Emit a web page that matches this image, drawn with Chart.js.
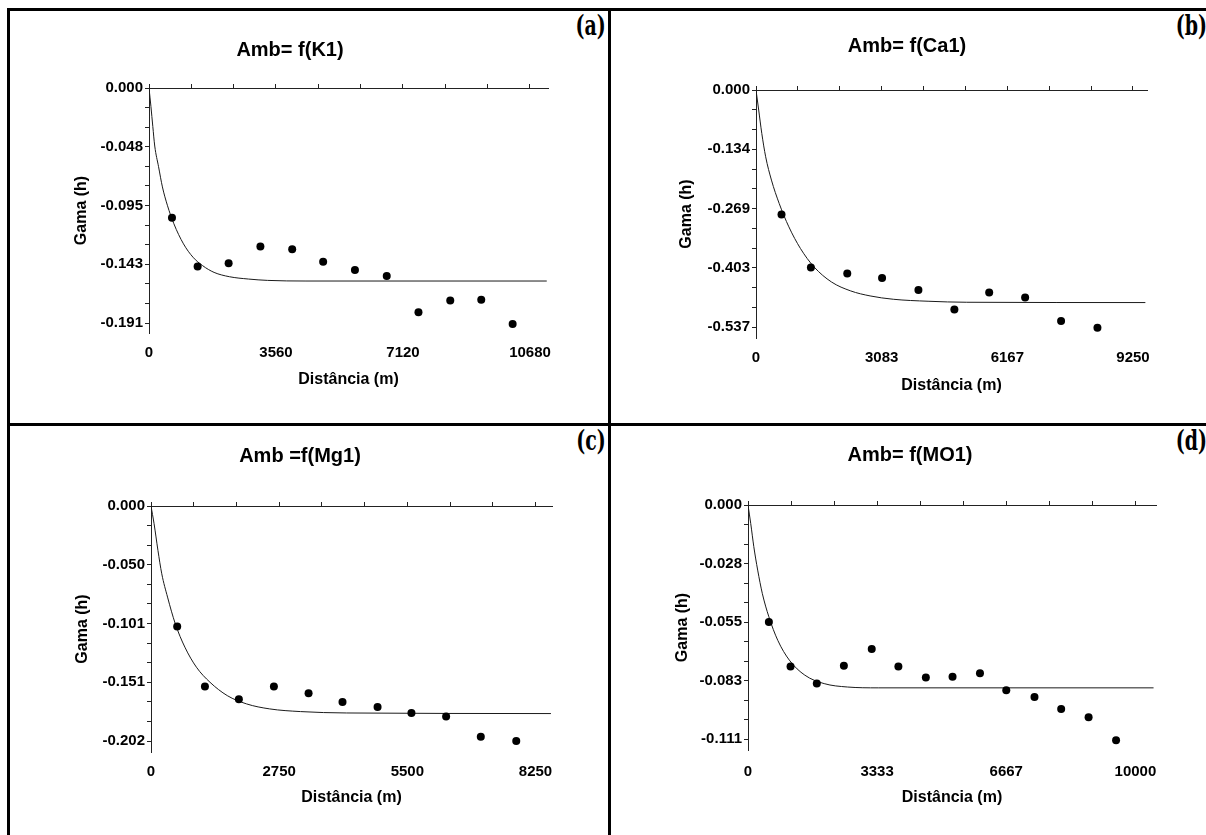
<!DOCTYPE html>
<html>
<head>
<meta charset="utf-8">
<script src="https://cdn.jsdelivr.net/npm/chart.js@4.4.1/dist/chart.umd.min.js"></script>
<style>
  html, body { margin: 0; padding: 0; background: #fff; overflow: hidden; }
  #page { position: relative; width: 1206px; height: 835px; overflow: hidden; background: #fff; }
  .rule { position: absolute; background: #000; }
  #page canvas { position: absolute; }
  .tag {
    position: absolute; font-family: "DejaVu Serif Condensed", "Liberation Serif", serif;
    font-weight: bold; font-size: 27px; line-height: 27px; color: #000;
    transform: scaleX(0.78); transform-origin: right top; white-space: nowrap;
  }
</style>
</head>
<body>
<div id="page">
  <!-- moldura da tabela -->
  <div class="rule" style="left:7px;top:8px;width:1210px;height:3px"></div>
  <div class="rule" style="left:7px;top:8px;width:3px;height:840px"></div>
  <div class="rule" style="left:608px;top:8px;width:3px;height:840px"></div>
  <div class="rule" style="left:7px;top:423px;width:1210px;height:3px"></div>

  <div class="tag" style="right:600px;top:12px">(a)</div>
  <div class="tag" style="right:-1px;top:12px">(b)</div>
  <div class="tag" style="right:600px;top:427px">(c)</div>
  <div class="tag" style="right:-1px;top:427px">(d)</div>
</div>

<script>
// ---------- dados ----------

// (a) Amb = f(K1)
const distA = [644, 1363, 2232, 3123, 4014, 4882, 5773, 6664, 7554, 8445, 9314, 10194];
const gamaA = [-0.1053, -0.1450, -0.1423, -0.1287, -0.1309, -0.1410, -0.1478, -0.1527, -0.1820, -0.1725, -0.1720, -0.1916];
const modeloDistA = [0, 54, 107, 161, 268, 376, 515, 697, 966, 1234, 1502, 1824, 2253, 2790, 3326, 4400, 11150];
const modeloGamaA = [0, -0.0150, -0.0313, -0.0471, -0.0639, -0.0803, -0.0952, -0.1102, -0.1265, -0.1374, -0.1442, -0.1497, -0.1532, -0.1551, -0.1562, -0.1567, -0.1567];
const xTicksA = [0, 3560, 7120, 10680];
const xLabelsA = ['0', '3560', '7120', '10680'];
const yTicksA = [0, -0.0477, -0.0954, -0.1431, -0.1908];
const yLabelsA = ['0.000', '-0.048', '-0.095', '-0.143', '-0.191'];
const xMaxA = 11185, yMinA = -0.1989;

// (b) Amb = f(Ca1)
const distB = [626, 1347, 2239, 3093, 3985, 4867, 5721, 6603, 7485, 8377];
const gamaB = [-0.2821, -0.4024, -0.4160, -0.4259, -0.4531, -0.4977, -0.4592, -0.4705, -0.5234, -0.5386];
const modeloDistB = [0, 66, 142, 237, 379, 569, 806, 1091, 1423, 1850, 2324, 2799, 3368, 4222, 5171, 9553];
const modeloGamaB = [0, -0.0454, -0.0983, -0.1513, -0.2042, -0.2572, -0.3101, -0.3593, -0.4009, -0.4350, -0.4554, -0.4667, -0.4743, -0.4788, -0.4811, -0.4818];
const xTicksB = [0, 3083, 6167, 9250];
const xLabelsB = ['0', '3083', '6167', '9250'];
const yTicksB = [0, -0.1343, -0.2686, -0.4029, -0.5372];
const yLabelsB = ['0.000', '-0.134', '-0.269', '-0.403', '-0.537'];
const xMaxB = 9593, yMinB = -0.5621;

// (c) Amb = f(Mg1)
const distC = [562, 1157, 1885, 2637, 3381, 4109, 4861, 5588, 6332, 7076, 7837];
const gamaC = [-0.1034, -0.1550, -0.1659, -0.1550, -0.1607, -0.1682, -0.1725, -0.1777, -0.1808, -0.1980, -0.2017];
const modeloDistC = [0, 66, 149, 231, 355, 521, 727, 975, 1265, 1637, 2050, 2546, 3208, 4200, 8581];
const modeloGamaC = [0, -0.0152, -0.0381, -0.0582, -0.0782, -0.1011, -0.1212, -0.1384, -0.1513, -0.1628, -0.1699, -0.1742, -0.1765, -0.1777, -0.1782];
const xTicksC = [0, 2750, 5500, 8250];
const xLabelsC = ['0', '2750', '5500', '8250'];
const yTicksC = [0, -0.05045, -0.1009, -0.15135, -0.2018];
const yLabelsC = ['0.000', '-0.050', '-0.101', '-0.151', '-0.202'];
const xMaxC = 8604, yMinC = -0.2112;

// (d) Amb = f(MO1)
const distD = [539, 1098, 1776, 2475, 3194, 3882, 4591, 5280, 5988, 6667, 7395, 8084, 8792, 9501];
const gamaD = [-0.0553, -0.0764, -0.0845, -0.0761, -0.0681, -0.0764, -0.0816, -0.0812, -0.0796, -0.0876, -0.0908, -0.0965, -0.1004, -0.1113];
const modeloDistD = [0, 70, 150, 250, 369, 539, 768, 1068, 1467, 1966, 2565, 3363, 10469];
const modeloGamaD = [0, -0.0087, -0.0197, -0.0308, -0.0418, -0.0529, -0.0640, -0.0734, -0.0805, -0.0845, -0.0861, -0.0865, -0.0865];
const xTicksD = [0, 3333, 6667, 10000];
const xLabelsD = ['0', '3333', '6667', '10000'];
const yTicksD = [0, -0.0277, -0.0554, -0.0831, -0.1108];
const yLabelsD = ['0.000', '-0.028', '-0.055', '-0.083', '-0.111'];
const xMaxD = 10532, yMinD = -0.1159;

// ---------- estilo ----------
const FONTE = '"Liberation Sans", Arial, sans-serif';
const TAM_TITULO = 20, TAM_TICK = 15, TAM_EIXO = 16;

// posicoes na pagina (px): celula, area do grafico, titulo etc.
const paineis = [
  { titulo: 'Amb= f(K1)', dist: distA, gama: gamaA, mDist: modeloDistA, mGama: modeloGamaA,
    xTicks: xTicksA, xLabels: xLabelsA, yTicks: yTicksA, yLabels: yLabelsA, xMax: xMaxA, yMin: yMinA,
    cell: { left: 10, top: 11, width: 598, height: 412 },
    plotL: 149, plotR: 548, plotT: 88, plotB: 333, titleX: 290, titleY: 50, gamaX: 82, xLabY: 353, xTitY: 380 },
  { titulo: 'Amb= f(Ca1)', dist: distB, gama: gamaB, mDist: modeloDistB, mGama: modeloGamaB,
    xTicks: xTicksB, xLabels: xLabelsB, yTicks: yTicksB, yLabels: yLabelsB, xMax: xMaxB, yMin: yMinB,
    cell: { left: 611, top: 11, width: 595, height: 412 },
    plotL: 756, plotR: 1147, plotT: 90, plotB: 338, titleX: 907, titleY: 46, gamaX: 687, xLabY: 358, xTitY: 386 },
  { titulo: 'Amb =f(Mg1)', dist: distC, gama: gamaC, mDist: modeloDistC, mGama: modeloGamaC,
    xTicks: xTicksC, xLabels: xLabelsC, yTicks: yTicksC, yLabels: yLabelsC, xMax: xMaxC, yMin: yMinC,
    cell: { left: 10, top: 426, width: 598, height: 409 },
    plotL: 151, plotR: 552, plotT: 506, plotB: 752, titleX: 300, titleY: 456, gamaX: 83, xLabY: 772, xTitY: 798 },
  { titulo: 'Amb= f(MO1)', dist: distD, gama: gamaD, mDist: modeloDistD, mGama: modeloGamaD,
    xTicks: xTicksD, xLabels: xLabelsD, yTicks: yTicksD, yLabels: yLabelsD, xMax: xMaxD, yMin: yMinD,
    cell: { left: 611, top: 426, width: 595, height: 409 },
    plotL: 748, plotR: 1156, plotT: 505, plotB: 750, titleX: 910, titleY: 455, gamaX: 683, xLabY: 772, xTitY: 798 }
];

function desenharPainel(p) {
  const c = p.cell;
  const canvas = document.createElement('canvas');
  canvas.width = c.width;
  canvas.height = c.height;
  canvas.style.left = c.left + 'px';
  canvas.style.top = c.top + 'px';
  canvas.style.width = c.width + 'px';
  canvas.style.height = c.height + 'px';
  document.getElementById('page').appendChild(canvas);

  // converte as posicoes da pagina para o canvas
  const plotL = p.plotL - c.left, plotR = p.plotR - c.left;
  const plotT = p.plotT - c.top, plotB = p.plotB - c.top;
  const lhTitulo = TAM_TITULO * 1.2, lhTick = TAM_TICK * 1.2, lhEixo = TAM_EIXO * 1.2;

  const padRight = c.width - plotR;
  const padLeft = Math.max(0, 2 * (p.titleX - c.left) - plotR);
  const larguraY = plotL - padLeft;
  const alturaX = c.height - plotB;

  const passoY = (p.yTicks[1] - p.yTicks[0]) / 3;
  const passoX = (p.xTicks[1] - p.xTicks[0]) / 3;

  new Chart(canvas.getContext('2d'), {
    type: 'scatter',
    data: {
      datasets: [
        {
          label: 'modelo',
          data: p.mDist.map((d, i) => ({ x: d, y: p.mGama[i] })),
          showLine: true,
          borderColor: '#1a1a1a',
          borderWidth: 1,
          pointRadius: 0,
          cubicInterpolationMode: 'monotone',
          fill: false,
          order: 2
        },
        {
          label: 'semivariância',
          data: p.dist.map((d, i) => ({ x: d, y: p.gama[i] })),
          pointRadius: 4,
          pointBackgroundColor: '#000',
          pointBorderWidth: 0,
          showLine: false,
          order: 1
        }
      ]
    },
    options: {
      responsive: false,
      animation: false,
      devicePixelRatio: 1,
      layout: { padding: { left: padLeft, right: padRight, top: 0, bottom: 0 } },
      plugins: {
        legend: { display: false },
        tooltip: { enabled: false },
        title: {
          display: true,
          text: p.titulo,
          color: '#000',
          font: { family: FONTE, size: TAM_TITULO, weight: 'bold' },
          padding: {
            top: (p.titleY - c.top) - lhTitulo / 2,
            bottom: plotT - (p.titleY - c.top) - lhTitulo / 2
          }
        }
      },
      scales: {
        x: {
          type: 'linear',
          position: 'bottom',
          min: 0,
          max: p.xMax,
          grid: { display: false, drawTicks: false },
          border: { display: false },
          ticks: {
            autoSkip: false,
            maxRotation: 0,
            color: '#000',
            padding: (p.xLabY - p.plotB) - lhTick / 2,
            font: { family: FONTE, size: TAM_TICK, weight: 'bold' },
            callback: v => {
              const k = p.xTicks.indexOf(v);
              return k >= 0 ? p.xLabels[k] : '';
            }
          },
          afterBuildTicks: axis => { axis.ticks = p.xTicks.map(v => ({ value: v })); },
          title: {
            display: true,
            text: 'Distância (m)',
            color: '#000',
            font: { family: FONTE, size: TAM_EIXO, weight: 'bold' },
            padding: { top: 0, bottom: (c.top + c.height - p.xTitY) - lhEixo / 2 }
          },
          afterFit: axis => { axis.height = alturaX; }
        },
        // linha do zero com as marcas
        x2: {
          type: 'linear',
          position: 'top',
          min: 0,
          max: p.xMax,
          ticks: { display: false },
          grid: { drawOnChartArea: false, drawTicks: true, tickLength: 4, color: '#222', lineWidth: 1 },
          border: { display: true, color: '#222', width: 1 },
          afterBuildTicks: axis => {
            const t = [];
            for (let i = 0; i * passoX <= p.xMax + 1e-6; i++) t.push({ value: i * passoX });
            axis.ticks = t;
          },
          afterFit: axis => { axis.height = 0; }
        },
        y: {
          type: 'linear',
          position: 'left',
          min: p.yMin,
          max: 0,
          grid: { drawOnChartArea: false, drawTicks: true, tickLength: 4, color: '#222', lineWidth: 1 },
          border: { display: true, color: '#222', width: 1 },
          ticks: {
            autoSkip: false,
            color: '#000',
            padding: 2,
            font: { family: FONTE, size: TAM_TICK, weight: 'bold' },
            callback: v => {
              const k = p.yTicks.findIndex(t => Math.abs(t - v) < 1e-7);
              return k >= 0 ? p.yLabels[k] : '';
            }
          },
          afterBuildTicks: axis => {
            const t = [];
            for (let i = 0; i * passoY >= p.yMin - 1e-9; i++) t.push({ value: i * passoY });
            axis.ticks = t;
          },
          title: {
            display: true,
            text: 'Gama (h)',
            color: '#000',
            font: { family: FONTE, size: TAM_EIXO, weight: 'bold' },
            padding: { top: (p.gamaX - c.left) - padLeft - lhEixo / 2, bottom: 0 }
          },
          afterFit: axis => { axis.width = larguraY; }
        }
      }
    }
  });
}

paineis.forEach(desenharPainel);
</script>
</body>
</html>
